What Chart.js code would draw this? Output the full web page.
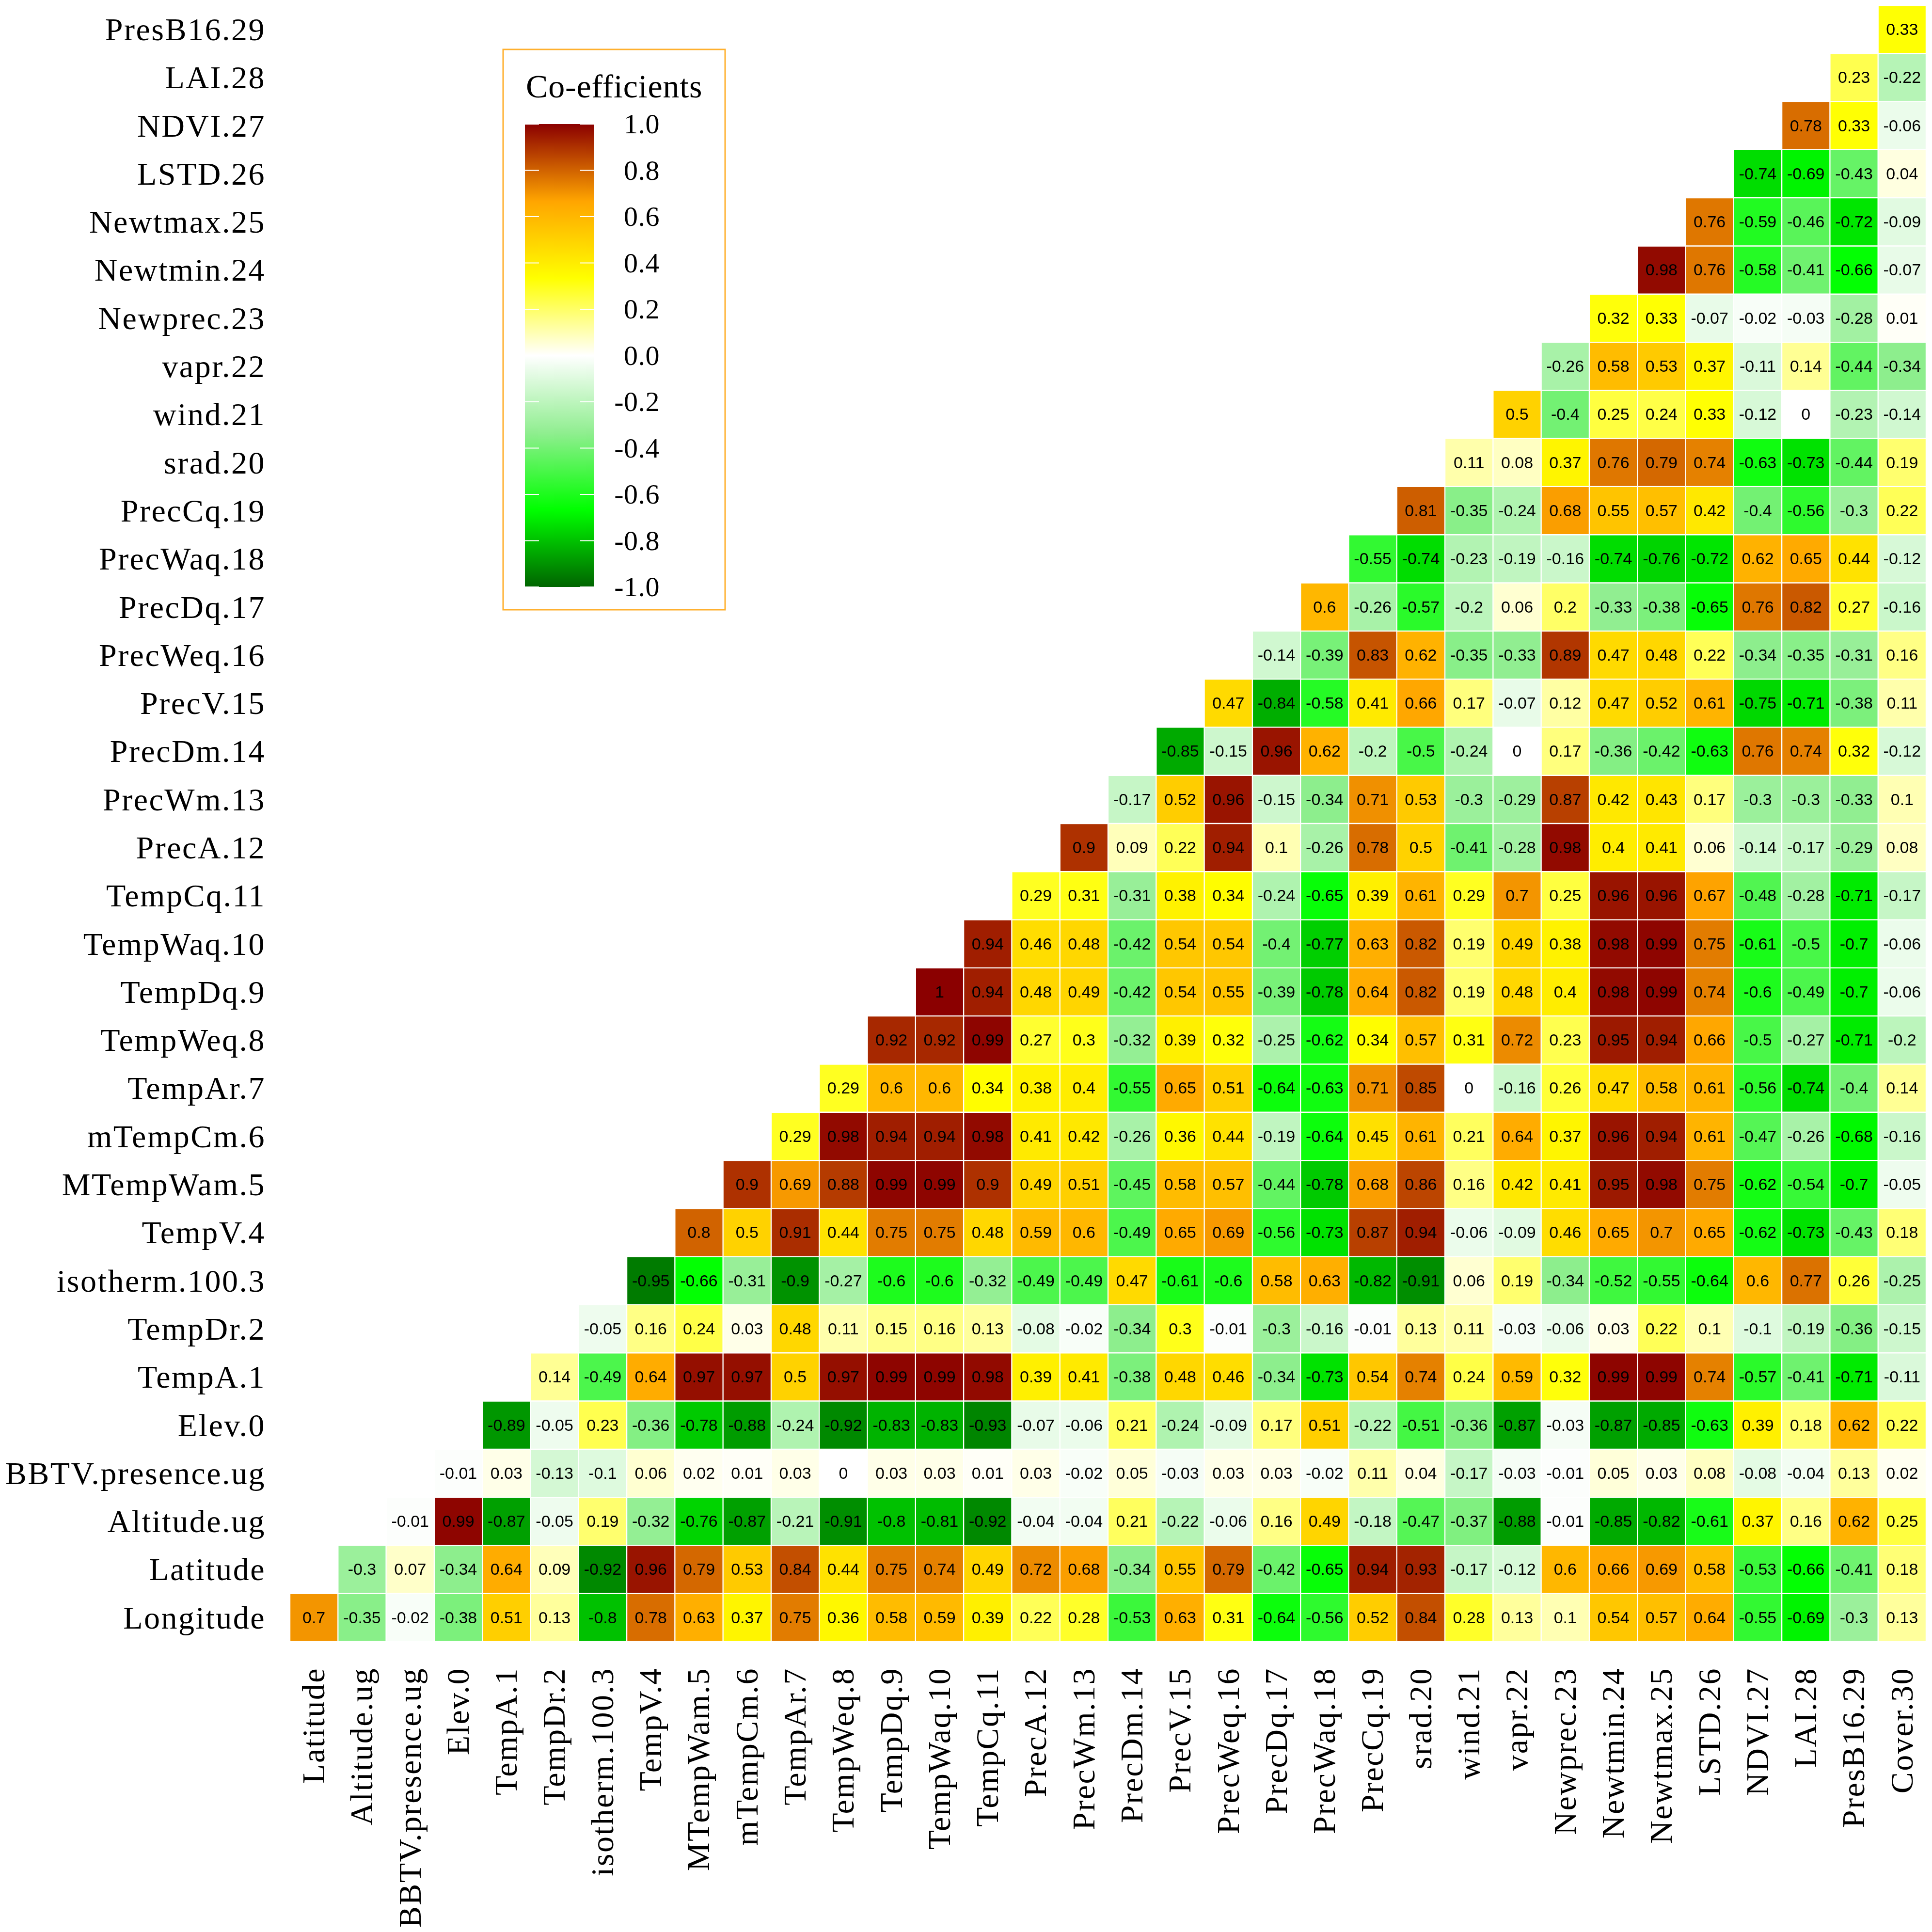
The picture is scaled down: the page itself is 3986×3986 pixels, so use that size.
<!DOCTYPE html>
<html>
<head>
<meta charset="utf-8">
<title>Correlation heatmap</title>
<script src="https://cdn.jsdelivr.net/npm/chart.js@4"></script>
<style>
    html, body { margin: 0; padding: 0; background: #ffffff; }
    canvas { display: block; }
</style>
</head>
<body>
<canvas id="heatmap" width="3986" height="3986"></canvas>
<script>
const colLabels = ['Latitude', 'Altitude.ug', 'BBTV.presence.ug', 'Elev.0', 'TempA.1', 'TempDr.2', 'isotherm.100.3',
    'TempV.4', 'MTempWam.5', 'mTempCm.6', 'TempAr.7', 'TempWeq.8', 'TempDq.9', 'TempWaq.10', 'TempCq.11',
    'PrecA.12', 'PrecWm.13', 'PrecDm.14', 'PrecV.15', 'PrecWeq.16', 'PrecDq.17', 'PrecWaq.18', 'PrecCq.19',
    'srad.20', 'wind.21', 'vapr.22', 'Newprec.23', 'Newtmin.24', 'Newtmax.25', 'LSTD.26', 'NDVI.27', 'LAI.28',
    'PresB16.29', 'Cover.30'];

// bottom row first
const rowLabels = ['Longitude', 'Latitude', 'Altitude.ug', 'BBTV.presence.ug', 'Elev.0', 'TempA.1', 'TempDr.2',
    'isotherm.100.3', 'TempV.4', 'MTempWam.5', 'mTempCm.6', 'TempAr.7', 'TempWeq.8', 'TempDq.9', 'TempWaq.10',
    'TempCq.11', 'PrecA.12', 'PrecWm.13', 'PrecDm.14', 'PrecV.15', 'PrecWeq.16', 'PrecDq.17', 'PrecWaq.18',
    'PrecCq.19', 'srad.20', 'wind.21', 'vapr.22', 'Newprec.23', 'Newtmin.24', 'Newtmax.25', 'LSTD.26', 'NDVI.27',
    'LAI.28', 'PresB16.29'];

// each row starts at the column with the same index as the row
const corrRows = [
    [0.7, -0.35, -0.02, -0.38, 0.51, 0.13, -0.8, 0.78, 0.63, 0.37, 0.75, 0.36, 0.58, 0.59, 0.39, 0.22, 0.28, -0.53, 0.63, 0.31, -0.64, -0.56, 0.52, 0.84, 0.28, 0.13, 0.1, 0.54, 0.57, 0.64, -0.55, -0.69, -0.3, 0.13],
    [-0.3, 0.07, -0.34, 0.64, 0.09, -0.92, 0.96, 0.79, 0.53, 0.84, 0.44, 0.75, 0.74, 0.49, 0.72, 0.68, -0.34, 0.55, 0.79, -0.42, -0.65, 0.94, 0.93, -0.17, -0.12, 0.6, 0.66, 0.69, 0.58, -0.53, -0.66, -0.41, 0.18],
    [-0.01, 0.99, -0.87, -0.05, 0.19, -0.32, -0.76, -0.87, -0.21, -0.91, -0.8, -0.81, -0.92, -0.04, -0.04, 0.21, -0.22, -0.06, 0.16, 0.49, -0.18, -0.47, -0.37, -0.88, -0.01, -0.85, -0.82, -0.61, 0.37, 0.16, 0.62, 0.25],
    [-0.01, 0.03, -0.13, -0.1, 0.06, 0.02, 0.01, 0.03, 0, 0.03, 0.03, 0.01, 0.03, -0.02, 0.05, -0.03, 0.03, 0.03, -0.02, 0.11, 0.04, -0.17, -0.03, -0.01, 0.05, 0.03, 0.08, -0.08, -0.04, 0.13, 0.02],
    [-0.89, -0.05, 0.23, -0.36, -0.78, -0.88, -0.24, -0.92, -0.83, -0.83, -0.93, -0.07, -0.06, 0.21, -0.24, -0.09, 0.17, 0.51, -0.22, -0.51, -0.36, -0.87, -0.03, -0.87, -0.85, -0.63, 0.39, 0.18, 0.62, 0.22],
    [0.14, -0.49, 0.64, 0.97, 0.97, 0.5, 0.97, 0.99, 0.99, 0.98, 0.39, 0.41, -0.38, 0.48, 0.46, -0.34, -0.73, 0.54, 0.74, 0.24, 0.59, 0.32, 0.99, 0.99, 0.74, -0.57, -0.41, -0.71, -0.11],
    [-0.05, 0.16, 0.24, 0.03, 0.48, 0.11, 0.15, 0.16, 0.13, -0.08, -0.02, -0.34, 0.3, -0.01, -0.3, -0.16, -0.01, 0.13, 0.11, -0.03, -0.06, 0.03, 0.22, 0.1, -0.1, -0.19, -0.36, -0.15],
    [-0.95, -0.66, -0.31, -0.9, -0.27, -0.6, -0.6, -0.32, -0.49, -0.49, 0.47, -0.61, -0.6, 0.58, 0.63, -0.82, -0.91, 0.06, 0.19, -0.34, -0.52, -0.55, -0.64, 0.6, 0.77, 0.26, -0.25],
    [0.8, 0.5, 0.91, 0.44, 0.75, 0.75, 0.48, 0.59, 0.6, -0.49, 0.65, 0.69, -0.56, -0.73, 0.87, 0.94, -0.06, -0.09, 0.46, 0.65, 0.7, 0.65, -0.62, -0.73, -0.43, 0.18],
    [0.9, 0.69, 0.88, 0.99, 0.99, 0.9, 0.49, 0.51, -0.45, 0.58, 0.57, -0.44, -0.78, 0.68, 0.86, 0.16, 0.42, 0.41, 0.95, 0.98, 0.75, -0.62, -0.54, -0.7, -0.05],
    [0.29, 0.98, 0.94, 0.94, 0.98, 0.41, 0.42, -0.26, 0.36, 0.44, -0.19, -0.64, 0.45, 0.61, 0.21, 0.64, 0.37, 0.96, 0.94, 0.61, -0.47, -0.26, -0.68, -0.16],
    [0.29, 0.6, 0.6, 0.34, 0.38, 0.4, -0.55, 0.65, 0.51, -0.64, -0.63, 0.71, 0.85, 0, -0.16, 0.26, 0.47, 0.58, 0.61, -0.56, -0.74, -0.4, 0.14],
    [0.92, 0.92, 0.99, 0.27, 0.3, -0.32, 0.39, 0.32, -0.25, -0.62, 0.34, 0.57, 0.31, 0.72, 0.23, 0.95, 0.94, 0.66, -0.5, -0.27, -0.71, -0.2],
    [1, 0.94, 0.48, 0.49, -0.42, 0.54, 0.55, -0.39, -0.78, 0.64, 0.82, 0.19, 0.48, 0.4, 0.98, 0.99, 0.74, -0.6, -0.49, -0.7, -0.06],
    [0.94, 0.46, 0.48, -0.42, 0.54, 0.54, -0.4, -0.77, 0.63, 0.82, 0.19, 0.49, 0.38, 0.98, 0.99, 0.75, -0.61, -0.5, -0.7, -0.06],
    [0.29, 0.31, -0.31, 0.38, 0.34, -0.24, -0.65, 0.39, 0.61, 0.29, 0.7, 0.25, 0.96, 0.96, 0.67, -0.48, -0.28, -0.71, -0.17],
    [0.9, 0.09, 0.22, 0.94, 0.1, -0.26, 0.78, 0.5, -0.41, -0.28, 0.98, 0.4, 0.41, 0.06, -0.14, -0.17, -0.29, 0.08],
    [-0.17, 0.52, 0.96, -0.15, -0.34, 0.71, 0.53, -0.3, -0.29, 0.87, 0.42, 0.43, 0.17, -0.3, -0.3, -0.33, 0.1],
    [-0.85, -0.15, 0.96, 0.62, -0.2, -0.5, -0.24, 0, 0.17, -0.36, -0.42, -0.63, 0.76, 0.74, 0.32, -0.12],
    [0.47, -0.84, -0.58, 0.41, 0.66, 0.17, -0.07, 0.12, 0.47, 0.52, 0.61, -0.75, -0.71, -0.38, 0.11],
    [-0.14, -0.39, 0.83, 0.62, -0.35, -0.33, 0.89, 0.47, 0.48, 0.22, -0.34, -0.35, -0.31, 0.16],
    [0.6, -0.26, -0.57, -0.2, 0.06, 0.2, -0.33, -0.38, -0.65, 0.76, 0.82, 0.27, -0.16],
    [-0.55, -0.74, -0.23, -0.19, -0.16, -0.74, -0.76, -0.72, 0.62, 0.65, 0.44, -0.12],
    [0.81, -0.35, -0.24, 0.68, 0.55, 0.57, 0.42, -0.4, -0.56, -0.3, 0.22],
    [0.11, 0.08, 0.37, 0.76, 0.79, 0.74, -0.63, -0.73, -0.44, 0.19],
    [0.5, -0.4, 0.25, 0.24, 0.33, -0.12, 0, -0.23, -0.14],
    [-0.26, 0.58, 0.53, 0.37, -0.11, 0.14, -0.44, -0.34],
    [0.32, 0.33, -0.07, -0.02, -0.03, -0.28, 0.01],
    [0.98, 0.76, -0.58, -0.41, -0.66, -0.07],
    [0.76, -0.59, -0.46, -0.72, -0.09],
    [-0.74, -0.69, -0.43, 0.04],
    [0.78, 0.33, -0.06],
    [0.23, -0.22],
    [0.33]
];

const legendTicks = [1, 0.8, 0.6, 0.4, 0.2, 0, -0.2, -0.4, -0.6, -0.8, -1];

// darkgreen, green, lightgreen, white, yellow, orange, darkred
const rampValues = [-1, -2 / 3, -1 / 3, 0, 1 / 3, 2 / 3, 1];
const rampColors = [[0, 100, 0], [0, 255, 0], [144, 238, 144], [255, 255, 255], [255, 255, 0], [255, 165, 0], [139, 0, 0]];

const serifFont = '"Liberation Serif", serif';

function cellColor(v) {
    let i = 0;
    while (i < rampValues.length - 2 && v > rampValues[i + 1]) i++;
    const t = (v - rampValues[i]) / (rampValues[i + 1] - rampValues[i]);
    const rgb = rampColors[i].map((c, k) => Math.round(c + (rampColors[i + 1][k] - c) * t));
    return `rgb(${rgb[0]}, ${rgb[1]}, ${rgb[2]})`;
}

// one floating-bar dataset per row, empty below the diagonal
const datasets = corrRows.map((row, r) => ({
    label: rowLabels[r],
    data: colLabels.map((c, j) => (j < r ? null : [r, r + 1])),
    backgroundColor: colLabels.map((c, j) => (j < r ? 'transparent' : cellColor(row[j - r]))),
    borderColor: '#ffffff',
    borderWidth: 1.5,
    borderSkipped: false,
    grouped: false,
    barPercentage: 1,
    categoryPercentage: 1
}));

const labelSpacing = {
    id: 'labelSpacing',
    beforeDraw(chart) {
        chart.ctx.letterSpacing = '2.5px';
    }
};

const cellText = {
    id: 'cellText',
    afterDatasetsDraw(chart) {
        const ctx = chart.ctx;
        ctx.save();
        ctx.letterSpacing = '0px';
        ctx.font = '34px "Liberation Sans", sans-serif';
        ctx.fillStyle = '#000000';
        ctx.textAlign = 'center';
        ctx.textBaseline = 'middle';
        corrRows.forEach((row, r) => {
            const meta = chart.getDatasetMeta(r);
            row.forEach((v, k) => {
                const p = meta.data[k + r].getCenterPoint();
                ctx.fillText(String(v), p.x, p.y + 2);
            });
        });
        ctx.restore();
    }
};

// colour key in the free upper-left corner
const colorKey = {
    id: 'colorKey',
    afterDraw(chart) {
        const ctx = chart.ctx;
        const barLeft = 1083, barRight = 1226, barTop = 256, barBottom = 1211;
        ctx.save();
        ctx.strokeStyle = '#FFB02E';
        ctx.lineWidth = 3;
        ctx.strokeRect(1038, 102, 458, 1156);

        ctx.letterSpacing = '0.8px';
        ctx.fillStyle = '#000000';
        ctx.font = '68px ' + serifFont;
        ctx.textAlign = 'left';
        ctx.textBaseline = 'alphabetic';
        ctx.fillText('Co-efficients', 1085, 201);

        const grad = ctx.createLinearGradient(0, barBottom, 0, barTop);
        rampValues.forEach((v, i) => {
            const c = rampColors[i];
            grad.addColorStop((v + 1) / 2, `rgb(${c[0]}, ${c[1]}, ${c[2]})`);
        });
        ctx.fillStyle = grad;
        ctx.fillRect(barLeft, barTop, barRight - barLeft, barBottom - barTop);

        ctx.letterSpacing = '0.5px';
        ctx.textAlign = 'right';
        ctx.textBaseline = 'middle';
        ctx.font = '58px ' + serifFont;
        legendTicks.forEach(v => {
            const y = barBottom - (v + 1) / 2 * (barBottom - barTop);
            ctx.fillStyle = '#ffffff';
            ctx.fillRect(barLeft, y - 1, 29, 2);
            ctx.fillRect(barRight - 29, y - 1, 29, 2);
            ctx.fillStyle = '#000000';
            ctx.fillText(v.toFixed(1), 1361, y + 4);
        });
        ctx.restore();
    }
};

new Chart(document.getElementById('heatmap').getContext('2d'), {
    type: 'bar',
    data: { labels: colLabels, datasets: datasets },
    plugins: [labelSpacing, cellText, colorKey],
    options: {
        responsive: false,
        animation: false,
        layout: { padding: { top: 11, right: 12, left: 0, bottom: 0 } },
        plugins: {
            legend: { display: false },
            title: { display: false },
            tooltip: { enabled: false }
        },
        scales: {
            x: {
                grid: { display: false, drawTicks: false },
                border: { display: false },
                afterFit: scale => {
                    scale.height = 599;
                    scale.paddingLeft = 0;
                    scale.paddingRight = 0;
                },
                ticks: {
                    autoSkip: false,
                    minRotation: 90,
                    maxRotation: 90,
                    padding: 53,
                    labelOffset: 4,
                    color: '#000000',
                    font: { family: serifFont, size: 66 }
                }
            },
            y: {
                type: 'linear',
                min: 0,
                max: rowLabels.length,
                grid: { display: false, drawTicks: false },
                border: { display: false },
                afterFit: scale => {
                    scale.width = 598;
                    scale.paddingTop = 0;
                    scale.paddingBottom = 0;
                },
                afterBuildTicks: scale => {
                    scale.ticks = rowLabels.map((l, i) => ({ value: i + 0.5 }));
                },
                ticks: {
                    autoSkip: false,
                    padding: 50,
                    labelOffset: 5,
                    color: '#000000',
                    font: { family: serifFont, size: 66 },
                    callback: (value, index) => rowLabels[index]
                }
            }
        }
    }
});
</script>
</body>
</html>
